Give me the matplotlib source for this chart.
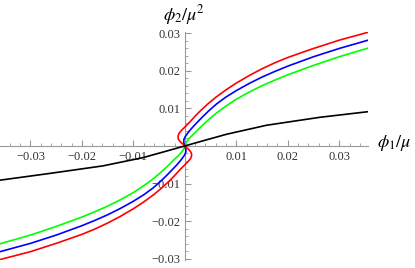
import matplotlib
matplotlib.use('Agg')
import matplotlib.pyplot as plt
from matplotlib.ticker import MultipleLocator, FuncFormatter

plt.rcParams['font.family'] = ['Liberation Serif', 'DejaVu Serif']
plt.rcParams['mathtext.fontset'] = 'stix'

# black curve (phi1, phi2)
black_x = [-0.0359, -0.0262, -0.0159, -0.0081, -0.0039, 0.0, 0.0039, 0.0081, 0.0159, 0.0262, 0.0356]
black_y = [-0.0091, -0.0073, -0.0053, -0.0031, -0.0015, 0.0, 0.0015, 0.0031, 0.0055, 0.0076, 0.0091]

# red curve, read from bottom-left to top-right
red_x = [-0.0359, -0.0300, -0.0250, -0.0200, -0.0175, -0.0150, -0.0125, -0.0100, -0.0080, -0.0060,
         -0.0045, -0.0030, -0.0020, -0.0010, -0.0005, 0.0000, 0.0006, 0.0011, 0.0013, 0.0013,
         0.0011, 0.0008, 0.0004, 0.0,
         -0.0004, -0.0008, -0.0011, -0.0013, -0.0013, -0.0011, -0.0006, 0.0000, 0.0005, 0.0010,
         0.0020, 0.0030, 0.0045, 0.0060, 0.0080, 0.0100, 0.0125, 0.0150, 0.0175, 0.0200,
         0.0250, 0.0300, 0.0356]
red_y = [-0.0302, -0.0281, -0.0259, -0.0235, -0.0221, -0.0205, -0.0187, -0.0167, -0.0149, -0.0129,
         -0.0112, -0.0093, -0.0079, -0.0064, -0.0057, -0.0050, -0.0042, -0.0034, -0.0027, -0.0020,
         -0.0015, -0.0010, -0.0005, 0.0,
         0.0005, 0.0010, 0.0015, 0.0020, 0.0027, 0.0034, 0.0042, 0.0050, 0.0057, 0.0064,
         0.0079, 0.0093, 0.0112, 0.0129, 0.0149, 0.0167, 0.0187, 0.0205, 0.0221, 0.0235,
         0.0259, 0.0281, 0.0302]

blue_x = [-0.0359, -0.0300, -0.0250, -0.0200, -0.0175, -0.0150, -0.0125, -0.0100, -0.0080, -0.0062,
          -0.0047, -0.0035, -0.0025, -0.0016, -0.0009, -0.0003, 0.0000, 0.0002, 0.0002, 0.0001, 0.0,
          -0.0001, -0.0002, -0.0002, 0.0000, 0.0003, 0.0009, 0.0016, 0.0025, 0.0035, 0.0047, 0.0062,
          0.0080, 0.0100, 0.0125, 0.0150, 0.0175, 0.0200, 0.0250, 0.0300, 0.0356]
blue_y = [-0.0281, -0.0259, -0.0237, -0.0212, -0.0198, -0.0183, -0.0166, -0.0147, -0.0130, -0.0112,
          -0.0094, -0.0078, -0.0064, -0.0051, -0.0040, -0.0029, -0.0023, -0.0016, -0.0008, -0.0004, 0.0,
          0.0004, 0.0008, 0.0016, 0.0023, 0.0029, 0.0040, 0.0051, 0.0064, 0.0078, 0.0094, 0.0112,
          0.0130, 0.0147, 0.0166, 0.0183, 0.0198, 0.0212, 0.0237, 0.0259, 0.0281]

green_x = [-0.0359, -0.0300, -0.0250, -0.0200, -0.0175, -0.0150, -0.0125, -0.0100, -0.0080, -0.0062,
           -0.0048, -0.0036, -0.0027, -0.0019, -0.0012, -0.0006, -0.0002, 0.0,
           0.0002, 0.0006, 0.0012, 0.0019, 0.0027, 0.0036, 0.0048, 0.0062,
           0.0080, 0.0100, 0.0125, 0.0150, 0.0175, 0.0200, 0.0250, 0.0300, 0.0356]
green_y = [-0.0260, -0.0237, -0.0214, -0.0189, -0.0175, -0.0160, -0.0143, -0.0124, -0.0106, -0.0088,
           -0.0072, -0.0057, -0.0045, -0.0034, -0.0025, -0.0016, -0.0008, 0.0,
           0.0008, 0.0016, 0.0025, 0.0034, 0.0045, 0.0057, 0.0072, 0.0088,
           0.0106, 0.0124, 0.0143, 0.0160, 0.0175, 0.0189, 0.0214, 0.0237, 0.0260]

fig = plt.figure(figsize=(4.15, 2.68), dpi=100)
ax = fig.add_axes([0.0, 0.03, 0.887, 0.851])

ax.plot(green_x, green_y, color='#00ff00', lw=1.2)
ax.plot(blue_x, blue_y, color='#0000ff', lw=1.2)
ax.plot(red_x, red_y, color='#ff0000', lw=1.2)
ax.plot(black_x, black_y, color='black', lw=1.2)

ax.set_xlim(-0.0359, 0.0356)
ax.set_ylim(-0.0303, 0.0303)

for s in ['top', 'right']:
    ax.spines[s].set_visible(False)
ax.spines['left'].set_position(('data', 0))
ax.spines['bottom'].set_position(('data', 0))
for s in ['left', 'bottom']:
    ax.spines[s].set_color('#999999')
    ax.spines[s].set_linewidth(0.8)
    ax.spines[s].set_zorder(0)

ax.xaxis.set_major_locator(MultipleLocator(0.01))
ax.xaxis.set_minor_locator(MultipleLocator(0.002))
ax.yaxis.set_major_locator(MultipleLocator(0.01))
ax.yaxis.set_minor_locator(MultipleLocator(0.002))

def fmt(v, pos):
    if abs(v) < 1e-9:
        return ''
    return ('%.2f' % v).replace('-', '\u2212')

ax.xaxis.set_major_formatter(FuncFormatter(fmt))
ax.yaxis.set_major_formatter(FuncFormatter(fmt))
ax.tick_params(which='major', direction='in', length=4, width=0.8, color='#999999',
               labelsize=9, labelcolor='#333333')
ax.tick_params(which='minor', direction='in', length=2.5, width=0.6, color='#999999')
ax.tick_params(axis='x', which='major', pad=4)
ax.tick_params(axis='y', which='major', pad=3)

fig.text(0.393, 0.944, r'$\phi_2/\mu^2$', fontsize=13, ha='left', va='center')
fig.text(0.909, 0.466, r'$\phi_1/\mu$', fontsize=13, ha='left', va='center')

fig.savefig('out.png', dpi=100)
